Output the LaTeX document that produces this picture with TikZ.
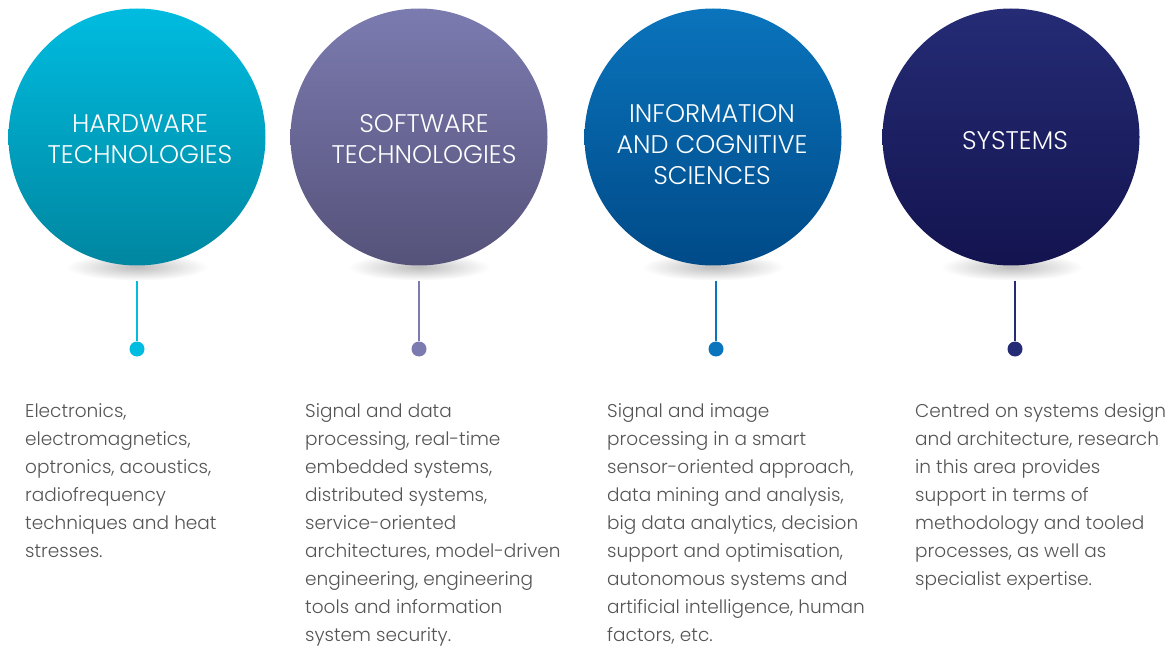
\documentclass[tikz,border=0pt]{standalone}
\usepackage{fontspec}
\setmainfont{Poppins}[UprightFont={* Light}]
\newfontfamily\titlefont{Poppins}[UprightFont={* Light}]
\usetikzlibrary{shapes.geometric}
\definecolor{hwtop}{HTML}{00BCE0}\definecolor{hwbot}{HTML}{0086A0}
\definecolor{swtop}{HTML}{7C7BB0}\definecolor{swbot}{HTML}{55527A}
\definecolor{ictop}{HTML}{0A74BC}\definecolor{icbot}{HTML}{004A88}
\definecolor{sytop}{HTML}{252C75}\definecolor{sybot}{HTML}{13134F}
\definecolor{bodygray}{HTML}{555555}
\tikzset{
  bigcircle/.style={circle, minimum size=257pt, inner sep=0pt},
  shadowblob/.style={ellipse, minimum width=142pt, minimum height=27pt, inner sep=0pt, shading=radial, inner color=black!26, outer color=white},
  titletext/.style={text=white, align=center, font=\titlefont\fontsize{25.5}{31}\selectfont},
  bodytext/.style={text=bodygray, align=left, anchor=north west, inner sep=0pt, font=\fontsize{18.5}{28}\selectfont},
  stem/.style={line width=2.5pt},
  enddot/.style={circle, minimum size=15pt, inner sep=0pt},
}
\begin{document}
\begin{tikzpicture}[x=1pt,y=-1pt]
\useasboundingbox (0,0) rectangle (1176,647);
\fill[white] (0,0) rectangle (1176,647);
% shadows
\node[shadowblob] (s1) at (137,267) {};
\node[shadowblob] (s2) at (419,267) {};
\node[shadowblob] (s3) at (713,267) {};
\node[shadowblob] (s4) at (1012,267) {};
% circles
\node[bigcircle, top color=hwtop, bottom color=hwbot] (c1) at (137,137) {};
\node[bigcircle, top color=swtop, bottom color=swbot] (c2) at (419,137) {};
\node[bigcircle, top color=ictop, bottom color=icbot] (c3) at (713,137) {};
\node[bigcircle, top color=sytop, bottom color=sybot] (c4) at (1011,137) {};
% titles
\node[titletext] (h1) at (140,139) {HARDWARE\\TECHNOLOGIES};
\node[titletext] (h2) at (424,139) {SOFTWARE\\TECHNOLOGIES};
\node[titletext] (h3) at (712,145) {INFORMATION\\AND COGNITIVE\\SCIENCES};
\node[titletext] (h4) at (1015,141) {SYSTEMS};
% dots
\node[enddot, fill=hwtop] (d1) at (137,349) {};
\node[enddot, fill=swtop] (d2) at (419,349) {};
\node[enddot, fill=ictop] (d3) at (716,349) {};
\node[enddot, fill=sytop] (d4) at (1015,349) {};
\draw[stem, draw=hwtop] (s1.south -| d1) -- (d1);
\draw[stem, draw=swtop] (s2.south -| d2) -- (d2);
\draw[stem, draw=ictop] (s3.south -| d3) -- (d3);
\draw[stem, draw=sytop] (s4.south -| d4) -- (d4);
% body texts
\node[bodytext] (t1) at (25,403) {Electronics,\\electromagnetics,\\optronics, acoustics,\\radiofrequency\\techniques and heat\\stresses.};
\node[bodytext] (t2) at (305,403) {Signal and data\\processing, real-time\\embedded systems,\\distributed systems,\\service-oriented\\architectures, model-driven\\engineering, engineering\\tools and information\\system security.};
\node[bodytext] (t3) at (607,403) {Signal and image\\processing in a smart\\sensor-oriented approach,\\data mining and analysis,\\big data analytics, decision\\support and optimisation,\\autonomous systems and\\artificial intelligence, human\\factors, etc.};
\node[bodytext] (t4) at (915,403) {Centred on systems design\\and architecture, research\\in this area provides\\support in terms of\\methodology and tooled\\processes, as well as\\specialist expertise.};
\end{tikzpicture}
\end{document}
